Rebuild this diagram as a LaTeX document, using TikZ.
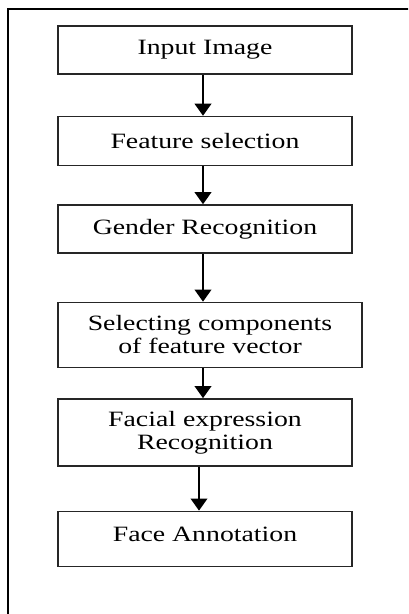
\documentclass[tikz,border=0pt]{standalone}
\usepackage{fontspec}
\setmainfont{Liberation Serif}[FakeStretch=1.27]
\usetikzlibrary{positioning, arrows.meta}
\tikzstyle{process} = [rectangle, minimum width=220.5pt, minimum height=36pt, text centered, align=center, draw=black!85, line width=1.1pt, font=\fontsize{16.4pt}{17.25pt}\selectfont]
\tikzstyle{arrow} = [line width=1.1pt, -{Triangle[width=12.5pt,length=9pt]}]
\tikzstyle{frame} = [line width=1.6pt, draw=black]

\begin{document}
\begin{tikzpicture}[x=0.75pt, y=-0.75pt]
    \clip (0,0) rectangle (408,614);
    \draw [frame] (8,9) rectangle (430,640);

    \node (input) [process] at (205,50) {Input Image};
    \node (feature_sel) [process, below=30.75pt of input, minimum height=36.75pt] {Feature selection};
    \node (gender) [process, below=28.5pt of feature_sel] {Gender Recognition};
    \node (sel_comp) [process, below=36pt of gender, xshift=3.75pt, minimum width=228pt, minimum height=48.75pt] {Selecting components\\of feature vector};
    \node (facial) [process, below=22.5pt of sel_comp, xshift=-3.75pt, minimum height=50.25pt] {Facial expression\\Recognition};
    \node (annotation) [process, below=33pt of facial, minimum height=41.25pt, text depth=7.5pt] {Face Annotation};

    \draw [arrow] ([xshift=-1.5pt]input.south) -- ([xshift=-1.5pt]feature_sel.north);
    \draw [arrow] ([xshift=-1.5pt]feature_sel.south) -- ([xshift=-1.5pt]gender.north);
    \draw [arrow] ([xshift=-1.5pt]gender.south) -- ([xshift=-1.5pt]gender.south |- sel_comp.north);
    \draw [arrow] ([xshift=-1.5pt]sel_comp.south -| facial) -- ([xshift=-1.5pt]facial.north);
    \draw [arrow] ([xshift=-4.5pt]facial.south) -- ([xshift=-4.5pt]annotation.north);

\end{tikzpicture}
\end{document}
